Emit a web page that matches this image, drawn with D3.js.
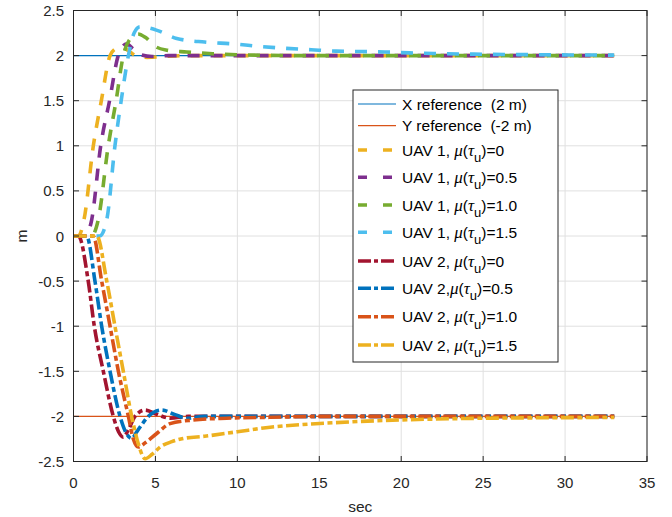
<!DOCTYPE html>
<html>
<head>
<meta charset="utf-8">
<script src="https://cdn.jsdelivr.net/npm/d3@7"></script>
<style>
body { margin: 0; background: #fff; }
svg { display: block; font-family: "Liberation Sans", Arial, Helvetica, sans-serif; }
</style>
</head>
<body>
<div id="chart"></div>
<script>
const W = 672, H = 517;
const PLOT = { LEFT: 73.5, RIGHT: 647, TOP: 10.5, BOTTOM: 461.5 };

// axis ticks
const xTicks = [0, 5, 10, 15, 20, 25, 30, 35];
const yTicks = [2.5, 2, 1.5, 1, 0.5, 0, -0.5, -1, -1.5, -2, -2.5];

// reference values (sec span and metres)
const refSpan = [0, 33];
const xRef = 2, yRef = -2;

// UAV 1 (x position): [sec, m]
const uav1Mu0 = [[0,0],[0.3,0],[0.64,0.18],[1.21,1.0],[1.7,1.5],[2.23,2.0],[2.6,2.08],[2.9,2.1],[3.3,2.06],[3.8,2.0],[4.5,1.98],[5.5,1.99],[7,2.0],[10,2.0],[33,2.0]];
const uav1Mu05 = [[0,0],[0.7,0],[1.11,0.18],[1.66,1.0],[2.2,1.5],[2.73,2.0],[3.0,2.1],[3.25,2.13],[3.6,2.08],[4.1,2.01],[4.8,1.99],[5.8,2.0],[7,2.0],[33,2.0]];
const uav1Mu10 = [[0,0],[1.1,0],[1.51,0.18],[2.12,1.0],[2.6,1.5],[3.04,2.0],[3.4,2.17],[3.94,2.24],[4.4,2.2],[5.0,2.1],[5.7,2.06],[6.9,2.04],[8.5,2.02],[10,2.01],[14,2.0],[33,2.0]];
const uav1Mu15 = [[0,0],[1.6,0],[2.03,0.18],[2.53,1.0],[2.95,1.55],[3.35,2.0],[3.7,2.25],[4.06,2.32],[4.5,2.31],[5.1,2.28],[6.3,2.19],[8,2.15],[9.7,2.13],[11.5,2.1],[13,2.08],[14.5,2.065],[16,2.05],[17.5,2.045],[19,2.04],[20.5,2.03],[22,2.023],[25,2.015],[28,2.01],[33,2.005]];

// UAV 2 (y position)
const uav2Mu0 = [[0,0],[0.3,0],[0.9,-0.5],[1.27,-1.0],[1.82,-1.5],[2.43,-2.0],[2.75,-2.17],[3.04,-2.23],[3.35,-2.15],[3.75,-2.0],[4.37,-1.93],[5.0,-1.97],[5.9,-2.02],[7,-2.0],[33,-2.0]];
const uav2Mu05 = [[0,0],[0.8,0],[1.31,-0.5],[1.72,-1.0],[2.23,-1.5],[2.84,-2.0],[3.2,-2.18],[3.55,-2.245],[3.9,-2.16],[4.57,-2.0],[5.38,-1.93],[6.2,-1.98],[6.9,-2.02],[8,-2.0],[33,-2.0]];
const uav2Mu10 = [[0,0],[1.2,0],[1.72,-0.5],[2.23,-1.0],[2.74,-1.5],[3.35,-2.0],[3.65,-2.25],[3.96,-2.34],[4.4,-2.29],[5.08,-2.19],[5.89,-2.08],[7.3,-2.04],[9.35,-2.02],[12,-2.01],[15,-2.0],[33,-2.0]];
const uav2Mu15 = [[0,0],[1.42,0],[2.03,-0.5],[2.53,-1.0],[3.04,-1.5],[3.55,-2.0],[3.95,-2.3],[4.37,-2.47],[4.8,-2.42],[5.28,-2.34],[6.0,-2.28],[6.7,-2.245],[8,-2.22],[10,-2.17],[12,-2.12],[14,-2.09],[17,-2.06],[19,-2.045],[21,-2.034],[24,-2.023],[28,-2.016],[33,-2.012]];

const muValues = ["0", "0.5", "1.0", "1.5"];
const uav1Series = [uav1Mu0, uav1Mu05, uav1Mu10, uav1Mu15];
const uav2Series = [uav2Mu0, uav2Mu05, uav2Mu10, uav2Mu15];
const uav1Colors = ["#EDB120", "#7E2F8E", "#77AC30", "#4DBEEE"];
const uav2Colors = ["#A2142F", "#0072BD", "#D95319", "#EDB120"];
const refColors = ["#0072BD", "#D95319"];

const DASH = "12,11", DASHDOT = "13,3.5,5,3.5";
const LW = 3.6;

const svg = d3.select("#chart").append("svg")
    .attr("width", W).attr("height", H);

const x = d3.scaleLinear().domain([0, 35]).range([PLOT.LEFT, PLOT.RIGHT]);
const y = d3.scaleLinear().domain([-2.5, 2.5]).range([PLOT.BOTTOM, PLOT.TOP]);

// grid
const grid = svg.append("g").attr("stroke", "#e0e0e0").attr("stroke-width", 1);
grid.selectAll(".gx").data(xTicks).enter().append("line")
    .attr("x1", d => x(d)).attr("x2", d => x(d))
    .attr("y1", PLOT.TOP).attr("y2", PLOT.BOTTOM);
grid.selectAll(".gy").data(yTicks).enter().append("line")
    .attr("x1", PLOT.LEFT).attr("x2", PLOT.RIGHT)
    .attr("y1", d => y(d)).attr("y2", d => y(d));

svg.append("defs").append("clipPath").attr("id", "clip")
    .append("rect").attr("x", PLOT.LEFT).attr("y", PLOT.TOP)
    .attr("width", PLOT.RIGHT - PLOT.LEFT).attr("height", PLOT.BOTTOM - PLOT.TOP);

const plot = svg.append("g").attr("clip-path", "url(#clip)");
const line = d3.line().x(d => x(d[0])).y(d => y(d[1])).curve(d3.curveMonotoneX);

// reference lines
[xRef, yRef].forEach((v, i) => {
    plot.append("path")
        .attr("d", line(refSpan.map(t => [t, v])))
        .attr("fill", "none").attr("stroke", refColors[i]).attr("stroke-width", 1.2);
});

uav1Series.forEach((s, i) => {
    plot.append("path").attr("d", line(s))
        .attr("fill", "none").attr("stroke", uav1Colors[i])
        .attr("stroke-width", LW).attr("stroke-dasharray", DASH);
});
uav2Series.forEach((s, i) => {
    plot.append("path").attr("d", line(s))
        .attr("fill", "none").attr("stroke", uav2Colors[i])
        .attr("stroke-width", LW).attr("stroke-dasharray", DASHDOT);
});

// axes: box with inward ticks on all sides
const axisColor = "#262626";
const ax = svg.append("g").attr("font-size", 15).attr("fill", axisColor);
ax.append("rect").attr("x", PLOT.LEFT).attr("y", PLOT.TOP)
    .attr("width", PLOT.RIGHT - PLOT.LEFT).attr("height", PLOT.BOTTOM - PLOT.TOP)
    .attr("fill", "none").attr("stroke", axisColor).attr("stroke-width", 1);
const TL = 5.5;
xTicks.forEach(t => {
    ax.append("line").attr("x1", x(t)).attr("x2", x(t)).attr("y1", PLOT.BOTTOM).attr("y2", PLOT.BOTTOM - TL).attr("stroke", axisColor);
    ax.append("line").attr("x1", x(t)).attr("x2", x(t)).attr("y1", PLOT.TOP).attr("y2", PLOT.TOP + TL).attr("stroke", axisColor);
    ax.append("text").attr("x", x(t)).attr("y", PLOT.BOTTOM + 26)
        .attr("text-anchor", "middle").text(t);
});
yTicks.forEach(v => {
    ax.append("line").attr("x1", PLOT.LEFT).attr("x2", PLOT.LEFT + TL).attr("y1", y(v)).attr("y2", y(v)).attr("stroke", axisColor);
    ax.append("line").attr("x1", PLOT.RIGHT).attr("x2", PLOT.RIGHT - TL).attr("y1", y(v)).attr("y2", y(v)).attr("stroke", axisColor);
    ax.append("text").attr("x", PLOT.LEFT - 9.5).attr("y", y(v) + 5.5)
        .attr("text-anchor", "end").text(v);
});
ax.append("text").attr("x", (PLOT.LEFT + PLOT.RIGHT) / 2).attr("y", 512)
    .attr("text-anchor", "middle").attr("font-size", 15.5).text("sec");
ax.append("text").attr("transform", `translate(27, ${y(0)}) rotate(-90)`)
    .attr("text-anchor", "middle").attr("font-size", 15.5).text("m");

// legend
const LEG = { X: 353, Y: 90, W: 205, H: 272 };
const leg = svg.append("g").attr("font-size", 15.5).attr("fill", "#000");
leg.append("rect").attr("x", LEG.X).attr("y", LEG.Y).attr("width", LEG.W).attr("height", LEG.H)
    .attr("fill", "#fff").attr("stroke", axisColor).attr("stroke-width", 1);

const legendRows = [
    { label: "X reference  (2 m)", color: refColors[0], dash: null, w: 1.2 },
    { label: "Y reference  (-2 m)", color: refColors[1], dash: null, w: 1.2 }
];
muValues.forEach((m, i) => legendRows.push({ prefix: "UAV 1, ", mu: m, color: uav1Colors[i], dash: "9,16", w: LW }));
muValues.forEach((m, i) => legendRows.push({ prefix: i === 1 ? "UAV 2," : "UAV 2, ", mu: m, color: uav2Colors[i], dash: "13,3,4,3", w: LW }));
const rowY = [104, 125.7, 150, 177.3, 205, 232.3, 261, 288.3, 316.7, 345];

legendRows.forEach((r, i) => {
    const cy = rowY[i];
    leg.append("line").attr("x1", 358).attr("x2", 396).attr("y1", cy).attr("y2", cy)
        .attr("stroke", r.color).attr("stroke-width", r.w)
        .attr("stroke-dasharray", r.dash);
    const t = leg.append("text").attr("x", 402).attr("y", cy + 5.5).style("white-space", "pre");
    if (r.label) { t.text(r.label); return; }
    t.append("tspan").text(r.prefix);
    t.append("tspan").attr("font-style", "italic").attr("font-family", "'Liberation Serif', serif").attr("font-size", 17).text("\u03bc");
    t.append("tspan").text("(");
    t.append("tspan").attr("font-style", "italic").attr("font-family", "'Liberation Serif', serif").attr("font-size", 17).text("\u03c4");
    t.append("tspan").attr("dy", 6.5).attr("font-size", 13).text("u");
    t.append("tspan").attr("dy", -6.5).text(")=" + r.mu);
});
</script>
</body>
</html>
